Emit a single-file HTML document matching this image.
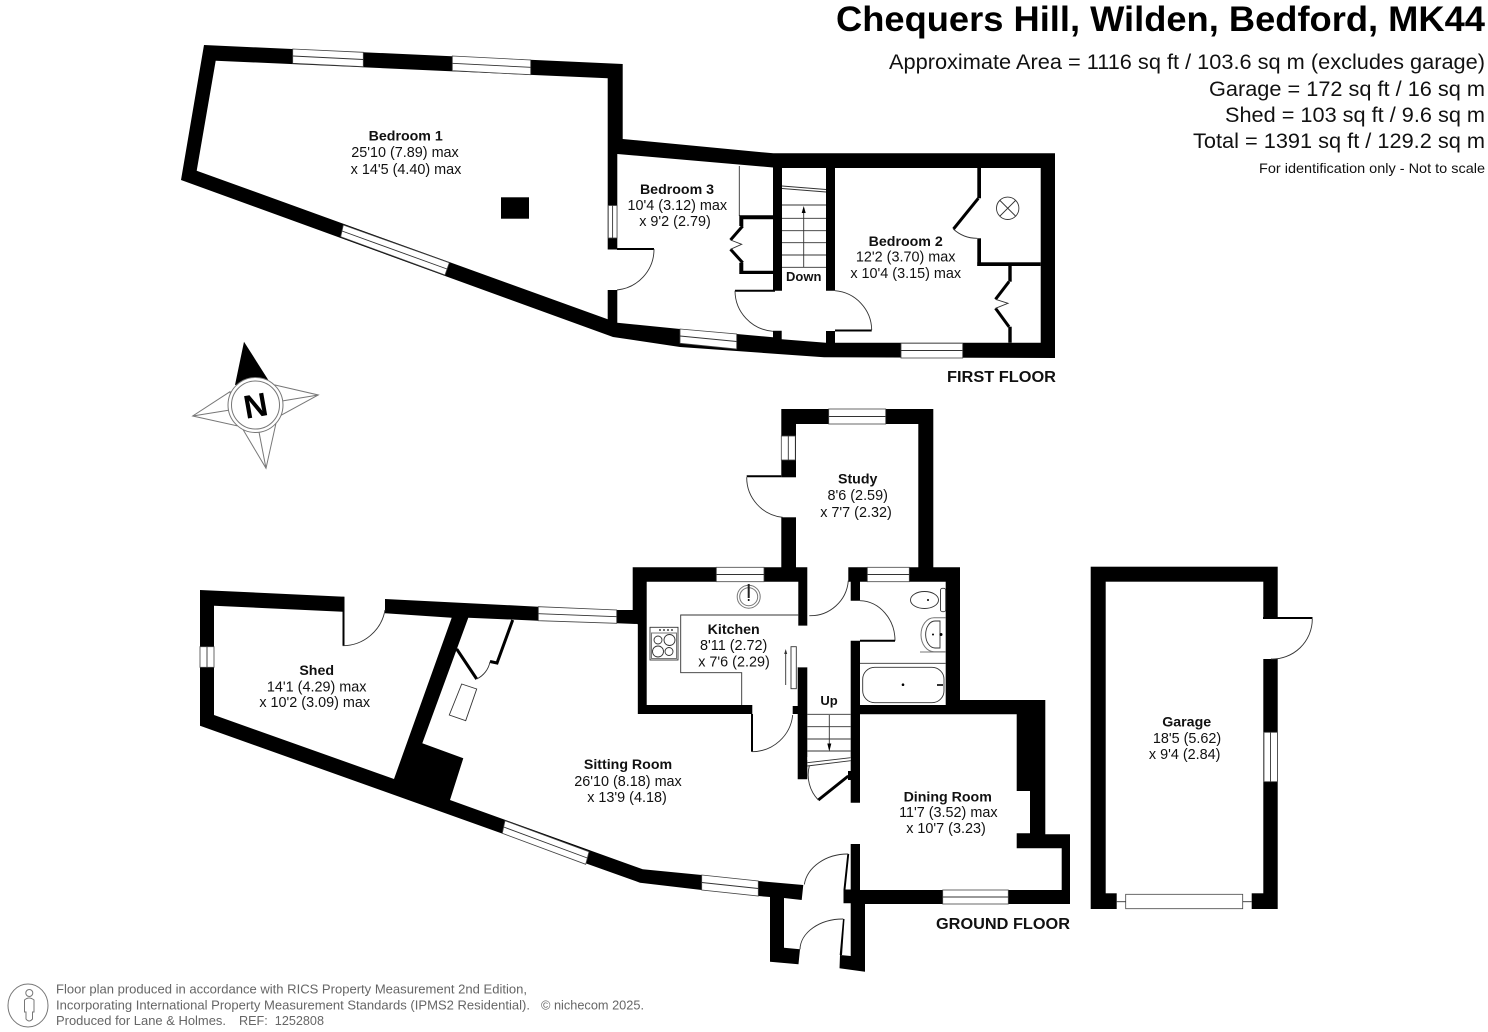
<!DOCTYPE html>
<html><head><meta charset="utf-8"><title>Chequers Hill floor plan</title>
<style>
html,body{margin:0;padding:0;background:#fff}
svg{display:block}
text{font-family:"Liberation Sans",Arial,sans-serif;fill:#111}
.b{font-weight:bold;font-size:14.2px;text-anchor:middle}
.r{font-size:14.4px;text-anchor:middle}
.w{fill:#fff;stroke:none}
.win{fill:#fff;stroke:#444;stroke-width:.8}
.l{fill:none;stroke:#333;stroke-width:.9}
.k{fill:none;stroke:#000;stroke-width:3}
.g{fill:none;stroke:#777;stroke-width:1}
.f{font-size:12.5px;fill:#666}
</style></head><body>
<svg width="1488" height="1032" viewBox="0 0 1488 1032" xmlns="http://www.w3.org/2000/svg">
<rect width="1488" height="1032" fill="#fff"/>

<!-- FIRST FLOOR -->
<polygon fill="#000" points="204,45 622.7,64 622.7,139 773.3,153.3 1055,153.3 1055,358 824,357.3 680,347 640,341 613,337 181,180"/>
<polygon class="w" points="215.7,60.7 607.7,78.3 607.7,319.3 196.7,170.7"/>
<polygon class="w" points="617.3,154 773,167.5 773,290.7 782,290.7 782,168 826,168 826,290.7 835,290.7 835,168 1040.7,168 1040.7,342.7 835,342.7 835,331 826,331 826,342.7 781.7,339.3 781.7,330.7 773,330.7 773,337.3 736.7,334 680,329 617.3,322.7"/>
<rect class="w" x="607" y="249.5" width="11" height="40.5"/>
<!-- Bedroom 1 windows -->
<polygon class="win" points="292.7,49 363.3,52.3 363.3,66.7 292.7,63.3"/><line class="l" x1="292.7" y1="56" x2="363.3" y2="59.5"/>
<polygon class="win" points="452.3,56 530.7,60 530.7,74.7 452.3,70.7"/><line class="l" x1="452.3" y1="63.3" x2="530.7" y2="67.3"/>
<polygon class="win" points="343.3,225 449.3,262.7 445,275 340.7,236.7"/><line class="l" x1="342" y1="231" x2="447" y2="269"/>
<rect x="501" y="197.3" width="28" height="21.4" fill="#000"/>
<rect class="win" x="608.3" y="205.5" width="8.7" height="32.5"/><line class="l" x1="612.6" y1="205.5" x2="612.6" y2="238"/>
<!-- door bed1/bed3 -->
<line x1="617" y1="249" x2="654" y2="249" stroke="#000" stroke-width="2"/>
<path class="l" d="M654,249 A41,41 0 0 1 617,290"/>
<!-- Bedroom 3 window -->
<polygon class="win" points="680,329 736.7,334 736.7,349 680,343.3"/><line class="l" x1="680" y1="336" x2="736.7" y2="341.5"/>
<!-- Bed 3 cupboards -->
<line class="l" x1="739.3" y1="166" x2="739.3" y2="216"/>
<polygon fill="#000" points="739.3,215.3 773,215.3 773,219.3 743.3,219.3 743.3,226 739.3,226"/>
<polygon fill="#000" points="739.3,262.7 743.3,262.7 743.3,270.7 773,270.7 773,274 739.3,274"/>
<polyline class="k" points="742.7,226 730.5,240"/><polyline class="k" points="730.5,249.3 742.7,262.7"/>
<polyline class="l" points="730.5,240 741.7,244.3 730.5,249.3"/>
<!-- Landing doors -->
<line x1="735" y1="290.7" x2="775" y2="290.7" stroke="#000" stroke-width="2"/>
<path class="l" d="M735,290.7 A41,41 0 0 0 773,331.3"/>
<line x1="835" y1="330.5" x2="871.7" y2="330.5" stroke="#000" stroke-width="2"/>
<path class="l" d="M835,290.7 A40,40 0 0 1 871.7,330"/>
<!-- Stairs first -->
<g class="l" stroke-width=".8">
<line x1="782" y1="186" x2="826" y2="189.5"/><line x1="782" y1="188.5" x2="826" y2="192"/>
<line x1="782" y1="205" x2="826" y2="205"/><line x1="782" y1="218.3" x2="826" y2="218.3"/><line x1="782" y1="230.7" x2="826" y2="230.7"/><line x1="782" y1="242.7" x2="826" y2="242.7"/><line x1="782" y1="255" x2="826" y2="255"/><line x1="782" y1="267.3" x2="826" y2="267.3"/>
<line x1="803.7" y1="267" x2="803.7" y2="208"/>
</g>
<polygon points="803.7,206 801.7,213 805.7,213" fill="#000"/>
<!-- Bedroom 2 cupboards -->
<rect x="977.3" y="168" width="3.7" height="30.3" fill="#000"/>
<rect x="977.3" y="238.3" width="3.7" height="27.7" fill="#000"/>
<rect x="977.3" y="262.3" width="63.4" height="3.7" fill="#000"/>
<rect x="1008.3" y="266" width="3.4" height="15.7" fill="#000"/>
<rect x="1008.3" y="326.7" width="3.4" height="16" fill="#000"/>
<line class="k" x1="978.3" y1="198.3" x2="953.5" y2="229"/>
<path class="l" d="M953.3,229 A35,35 0 0 0 977.3,238.3"/>
<polyline class="k" points="1009,281.7 995.5,299.3"/><polyline class="k" points="995.5,308.3 1009,326.7"/>
<polyline class="l" points="995.5,299.3 1008,303.3 995.5,308.3"/>
<circle class="l" cx="1007.7" cy="208.3" r="11.2"/>
<line class="l" x1="1000" y1="200.5" x2="1015.5" y2="216"/><line class="l" x1="1015.5" y1="200.5" x2="1000" y2="216"/>
<rect class="win" x="901" y="343.3" width="61.7" height="14.7"/><line class="l" x1="901" y1="350.5" x2="962.7" y2="350.5"/>

<!-- GROUND FLOOR -->
<polygon fill="#000" points="200,590 344.3,596.7 385,599 538.3,606.7 616.7,610 632.7,610 632.7,567.3 781.3,567.3 781.3,409 933.3,409 933.3,567.3 960,567.3 960,700 1045.3,700 1045.3,834.3 1070,834.3 1070,904 865,904 865,971.7 839.5,968.3 798.3,964.3 770,961.7 770,897 758.3,896 701.7,890 640,882.7 200,725.7"/>
<rect class="w" x="620" y="625" width="17.7" height="100"/>
<polygon class="w" points="214,605.7 342.7,611.7 344,590 385,590 385,613.3 451.7,617.7 394,779 214,715"/>
<polygon class="w" points="468.3,617.7 538.3,620.7 616.7,623.3 637.7,624 637.7,714 797.7,714 797.7,779.3 807.3,779.3 807.3,757 850.7,757 850.7,802.7 860,802.7 860,844 850.7,844 850.7,889.5 843.5,889.5 843.5,885 803.3,885 758.3,881 701.7,875 642.7,869.3 450,800 463.3,758.3 422.3,743.3"/>
<polygon class="w" points="784,898 801.7,900 803.3,885 843.5,885 843.5,903.3 850.7,903.3 850.7,956 840,955 839.5,969 798.3,966 800,949.3 784,947.7"/>
<polygon class="w" points="646.7,581.7 798.3,581.7 798.3,625.7 807.3,625.7 807.3,667.3 797.7,667.3 797.7,706 792.7,706 792.7,716 752.3,716 752.3,705 646.7,705"/>
<polygon class="w" points="796,424 918.3,424 918.3,567.3 848.3,567.3 848.3,581.7 850.7,581.7 850.7,600.7 860,600.7 860,581.7 945.7,581.7 945.7,705 860,705 860,640.7 850.7,640.7 850.7,760 807.3,760 807.3,667.3 798.3,667.3 798.3,625.7 807.3,625.7 807.3,567.3 796,567.3"/>
<polygon class="w" points="860,714.3 1016.7,714.3 1016.7,791 1030,791 1030,833.3 1016.7,833.3 1016.7,848.3 1061.7,848.3 1061.7,890 860,890"/>
<rect class="w" x="781" y="477.3" width="16" height="40"/>
<!-- Shed -->
<rect x="342.5" y="596.7" width="2" height="49" fill="#000"/>
<path class="l" d="M342.7,645.7 A43,43 0 0 0 385,610"/>
<rect class="win" x="200" y="646.7" width="14" height="20.6"/><line class="l" x1="207" y1="646.7" x2="207" y2="667.3"/>
<!-- Sitting windows -->
<polygon class="win" points="538.3,606.7 616.7,610 616.7,623.3 538.3,620.7"/><line class="l" x1="538.3" y1="613.7" x2="616.7" y2="616.7"/>
<polygon class="win" points="505,820.7 589,851.7 585.7,864.3 502.3,833.3"/><line class="l" x1="503.7" y1="827" x2="587.3" y2="858"/>
<polygon class="win" points="701.7,875 758.3,881 758.3,896 701.7,890"/><line class="l" x1="701.7" y1="882.5" x2="758.3" y2="888.5"/>
<!-- closet -->
<polyline class="k" points="512.7,620 497,663 490,661.5"/>
<line class="k" x1="456.7" y1="649" x2="476.7" y2="679"/>
<path class="l" d="M476.7,679 A24,24 0 0 0 490,661.7"/>
<polygon class="l" points="461.7,684 476.7,689 465.7,720.7 449.3,715"/>
<!-- Study -->
<rect class="win" x="828.7" y="409" width="57" height="15"/><line class="l" x1="828.7" y1="416.5" x2="885.7" y2="416.5"/>
<rect class="win" x="781.3" y="436" width="14" height="24"/><line class="l" x1="788.3" y1="436" x2="788.3" y2="460"/>
<line x1="746.7" y1="476.3" x2="781.3" y2="476.3" stroke="#000" stroke-width="2"/>
<path class="l" d="M746.7,477.3 A40,40 0 0 0 782.7,517.3"/>
<path class="l" d="M848.3,580.7 A38,38 0 0 1 809.3,615.7"/>
<!-- Kitchen -->
<rect class="win" x="716.3" y="567.3" width="47.7" height="14.4"/><line class="l" x1="716.3" y1="574.5" x2="764" y2="574.5"/>
<polyline class="l" points="798.3,615 680.7,615 680.7,672.7 741.7,672.7 741.7,705"/>
<circle class="g" cx="748.7" cy="596.7" r="11.5" stroke="#555"/><circle class="g" cx="748.7" cy="596.7" r="9"/>
<rect x="747.7" y="584" width="2" height="14" fill="#222"/><circle cx="748.7" cy="600" r="1" fill="#000"/>
<rect x="650" y="627.3" width="28" height="32.7" class="l"/>
<rect x="651.5" y="633" width="25" height="25.5" class="g"/>
<circle class="l" cx="658" cy="640" r="4"/><circle class="l" cx="669.5" cy="640" r="5.5"/><circle class="l" cx="658" cy="651.5" r="5.5"/><circle class="l" cx="669" cy="651.5" r="4"/>
<circle cx="660" cy="630" r="1" fill="#444"/><circle cx="664" cy="630" r="1" fill="#444"/><circle cx="668" cy="630" r="1" fill="#444"/><circle cx="672" cy="630" r="1" fill="#444"/>
<rect x="791" y="646.7" width="5.3" height="42" fill="#fff" stroke="#333" stroke-width=".9"/>
<line class="l" x1="785.7" y1="685" x2="785.7" y2="651"/><polygon points="785.7,649 784.2,654 787.2,654" fill="#333"/>
<line x1="752" y1="714" x2="752" y2="751.7" stroke="#000" stroke-width="2"/>
<path class="l" d="M752.3,751.7 A41,41 0 0 0 792.7,715"/>
<!-- Bathroom -->
<rect class="win" x="867.3" y="567.3" width="42" height="14.4"/><line class="l" x1="867.3" y1="574.5" x2="909.3" y2="574.5"/>
<path class="l" d="M860,600.7 A36,40 0 0 1 895,640.7"/>
<line x1="860" y1="640.7" x2="895" y2="640.7" stroke="#000" stroke-width="2"/>
<ellipse class="l" cx="924.5" cy="600" rx="14" ry="8.5"/>
<rect class="l" x="940.5" y="588.3" width="5.2" height="23.4" rx="2"/>
<circle cx="928" cy="600" r="1" fill="#000"/>
<path class="g" d="M945.7,617.7 H934 A13,17 0 0 0 934,651.7 H945.7"/>
<path class="l" d="M940,621 H935 A9,13 0 0 0 935,648 H940 Z"/>
<circle cx="933" cy="634.5" r="1" fill="#000"/><circle cx="941" cy="634.5" r="1.5" fill="#000"/>
<line class="l" x1="860" y1="663.3" x2="945.7" y2="663.3"/><line class="g" x1="920" y1="652" x2="945.7" y2="652"/>
<rect class="l" x="862.7" y="667.3" width="81.3" height="35.4" rx="12"/>
<circle cx="903" cy="684.7" r="1.3" fill="#000"/><rect x="937" y="684" width="6" height="2" fill="#333"/>
<!-- Stairs ground -->
<g class="l" stroke-width=".8">
<line x1="807.3" y1="714.3" x2="850.7" y2="714.3"/><line x1="807.3" y1="726.7" x2="850.7" y2="726.7"/><line x1="807.3" y1="739" x2="850.7" y2="739"/><line x1="807.3" y1="751" x2="850.7" y2="751"/>
<line x1="807.3" y1="762.7" x2="850.7" y2="757.7"/><line x1="807.3" y1="766" x2="850.7" y2="760.7"/>
<line x1="829.3" y1="715" x2="829.3" y2="748"/>
</g>
<polygon points="829.3,751.5 827.3,743.5 831.3,743.5" fill="#000"/>
<line class="k" x1="818.3" y1="800" x2="848.3" y2="776"/>
<rect x="848" y="771" width="3.5" height="9" fill="#000"/>
<path class="l" d="M809.3,766 A36,36 0 0 0 818.3,800"/>
<!-- Entrance doors -->
<polygon points="847.3,854 849.2,854 845.5,889.5 843.5,889.5" fill="#000"/>
<path class="l" d="M848.3,854 A44,35 0 0 0 804.3,884.5"/>
<polygon points="843,919 844.5,919 842,955 839.7,955" fill="#000"/>
<path class="l" d="M843.3,919 A43,31 0 0 0 800,949.3"/>
<!-- Dining window -->
<rect class="win" x="942.7" y="890" width="65.6" height="14"/><line class="l" x1="942.7" y1="897" x2="1008.3" y2="897"/>

<!-- GARAGE -->
<rect x="1090.7" y="566.7" width="187" height="342.3" fill="#000"/>
<rect class="w" x="1105.7" y="581.7" width="157.6" height="311.6"/>
<rect class="w" x="1116.7" y="893" width="135" height="17"/>
<rect class="w" x="1262" y="619" width="17" height="40"/>
<rect x="1263" y="617" width="49.5" height="2" fill="#000"/>
<path class="l" d="M1312.3,619 A40,40 0 0 1 1271,659"/>
<rect class="win" x="1264" y="732.3" width="13.4" height="49.4"/><line class="l" x1="1270.5" y1="732.3" x2="1270.5" y2="781.7"/>
<rect class="win" x="1125.7" y="894.3" width="117" height="14.4"/>
<line class="l" x1="1116.7" y1="901.7" x2="1125.7" y2="901.7"/><line class="l" x1="1242.7" y1="901.7" x2="1251.7" y2="901.7"/>

<!-- COMPASS -->
<polygon points="244,341.7 235,385 268.3,380" fill="#000"/>
<g class="g" stroke="#888">
<polygon points="275,385 318.3,395 278,417" fill="#fff"/><line x1="318.3" y1="395" x2="282" y2="401"/>
<polygon points="230,391.7 192.7,416 236.7,425.7" fill="#fff"/><line x1="192.7" y1="416" x2="230" y2="410"/>
<polygon points="243.3,430 266,468.3 276.7,420" fill="#fff"/><line x1="266" y1="468.3" x2="259" y2="432"/>
<circle cx="255.5" cy="405" r="27.5" fill="#fff"/><circle cx="255.5" cy="405" r="24"/>
</g>
<text x="255.5" y="417" text-anchor="middle" font-size="33" font-weight="bold" transform="rotate(-10 255.5 405)" style="fill:#000">N</text>

<!-- TITLE -->
<text x="1485" y="31" text-anchor="end" font-size="35" font-weight="bold" textLength="649" lengthAdjust="spacingAndGlyphs" style="fill:#000">Chequers Hill, Wilden, Bedford, MK44</text>
<text x="1485" y="69" text-anchor="end" font-size="21.5" textLength="596" lengthAdjust="spacingAndGlyphs">Approximate Area = 1116 sq ft / 103.6 sq m (excludes garage)</text>
<text x="1485" y="96" text-anchor="end" font-size="21.5" textLength="276" lengthAdjust="spacingAndGlyphs">Garage = 172 sq ft / 16 sq m</text>
<text x="1485" y="122" text-anchor="end" font-size="21.5" textLength="260" lengthAdjust="spacingAndGlyphs">Shed = 103 sq ft / 9.6 sq m</text>
<text x="1485" y="148" text-anchor="end" font-size="21.5" textLength="292" lengthAdjust="spacingAndGlyphs">Total = 1391 sq ft / 129.2 sq m</text>
<text x="1485" y="173" text-anchor="end" font-size="14" textLength="226" lengthAdjust="spacingAndGlyphs">For identification only - Not to scale</text>

<!-- LABELS -->
<text class="b" x="405.7" y="140.5">Bedroom 1</text><text class="r" x="405" y="157">25'10 (7.89) max</text><text class="r" x="406" y="174">x 14'5 (4.40) max</text>
<text class="b" x="677" y="194">Bedroom 3</text><text class="r" x="677.3" y="210">10'4 (3.12) max</text><text class="r" x="675" y="226">x 9'2 (2.79)</text>
<text class="b" x="905.7" y="246">Bedroom 2</text><text class="r" x="905.7" y="261.5">12'2 (3.70) max</text><text class="r" x="905.7" y="278">x 10'4 (3.15) max</text>
<text class="b" x="803.7" y="281" style="font-size:13px">Down</text>
<text x="1056" y="382" text-anchor="end" font-size="15.5" font-weight="bold" textLength="109" lengthAdjust="spacingAndGlyphs">FIRST FLOOR</text>
<text class="b" x="857.7" y="483.5">Study</text><text class="r" x="857.7" y="500">8'6 (2.59)</text><text class="r" x="856" y="517">x 7'7 (2.32)</text>
<text class="b" x="733.7" y="634">Kitchen</text><text class="r" x="733.7" y="650">8'11 (2.72)</text><text class="r" x="734" y="666.5">x 7'6 (2.29)</text>
<text class="b" x="829" y="705" style="font-size:13px">Up</text>
<text class="b" x="316.7" y="675">Shed</text><text class="r" x="316.7" y="691.5">14'1 (4.29) max</text><text class="r" x="314.7" y="707">x 10'2 (3.09) max</text>
<text class="b" x="628" y="769">Sitting Room</text><text class="r" x="628" y="786">26'10 (8.18) max</text><text class="r" x="627" y="802">x 13'9 (4.18)</text>
<text class="b" x="947.7" y="801.5">Dining Room</text><text class="r" x="948.3" y="817">11'7 (3.52) max</text><text class="r" x="946" y="833">x 10'7 (3.23)</text>
<text x="1070" y="929" text-anchor="end" font-size="15.5" font-weight="bold" textLength="134" lengthAdjust="spacingAndGlyphs">GROUND FLOOR</text>
<text class="b" x="1186.7" y="726.5">Garage</text><text class="r" x="1187" y="743">18'5 (5.62)</text><text class="r" x="1184.7" y="759">x 9'4 (2.84)</text>

<!-- FOOTER -->
<ellipse cx="28" cy="1005.5" rx="20" ry="21.5" fill="none" stroke="#777" stroke-width="1"/>
<circle cx="29.3" cy="993" r="3.5" fill="none" stroke="#777"/>
<path d="M24.5,1000 Q29,996 34,1000 V1012 H32.5 V1019 Q29,1023 26,1019 V1012 H24.5 Z" fill="none" stroke="#777"/>
<text class="f" x="56" y="993.5" textLength="471" lengthAdjust="spacingAndGlyphs">Floor plan produced in accordance with RICS Property Measurement 2nd Edition,</text>
<text class="f" x="56" y="1009.5" textLength="474" lengthAdjust="spacingAndGlyphs">Incorporating International Property Measurement Standards (IPMS2 Residential).</text>
<text class="f" x="541" y="1009.5" textLength="103" lengthAdjust="spacingAndGlyphs">© nichecom 2025.</text>
<text class="f" x="56" y="1025" textLength="170" lengthAdjust="spacingAndGlyphs">Produced for Lane &amp; Holmes.</text>
<text class="f" x="239" y="1025" textLength="85" lengthAdjust="spacingAndGlyphs" style="white-space:pre">REF:  1252808</text>
</svg>
</body></html>
